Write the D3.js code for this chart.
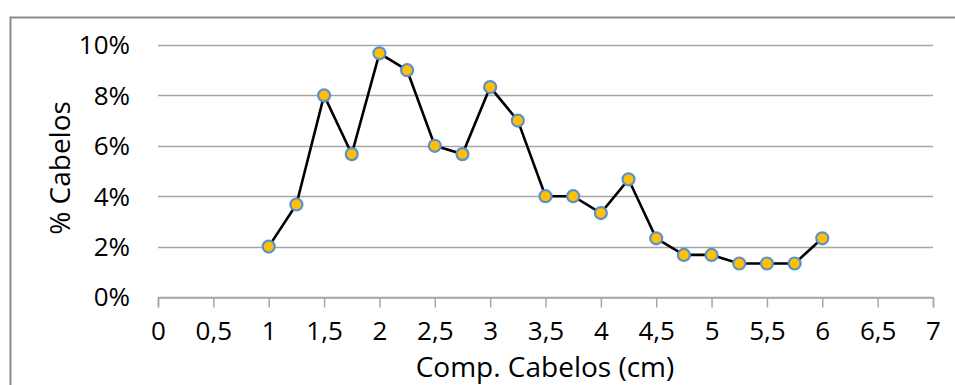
<!DOCTYPE html>
<html>
<head>
<meta charset="utf-8">
<script src="https://cdn.jsdelivr.net/npm/d3@7"></script>
<style>
  body { margin: 0; background: #fff; }
  text { font-family: "Open Sans", "Noto Sans", sans-serif; fill: #000; }
</style>
</head>
<body>
<svg id="chart" width="955" height="385"></svg>
<script>
// comprimento (cm) e % de cabelos
const comp = [1, 1.25, 1.5, 1.75, 2, 2.25, 2.5, 2.75, 3, 3.25, 3.5, 3.75, 4, 4.25, 4.5, 4.75, 5, 5.25, 5.5, 5.75, 6]
const pct = [2.0, 3.67, 8.0, 5.67, 9.67, 9.0, 6.0, 5.67, 8.33, 7.0, 4.0, 4.0, 3.33, 4.67, 2.33, 1.67, 1.67, 1.33, 1.33, 1.33, 2.33]
const xTicks = [0, 0.5, 1, 1.5, 2, 2.5, 3, 3.5, 4, 4.5, 5, 5.5, 6, 6.5, 7]
const yTicks = [0, 2, 4, 6, 8, 10]

const fs = 26
const svg = d3.select("#chart")

// moldura do gráfico
svg.append("rect")
  .attr("x", 10.5).attr("y", 17.5)
  .attr("width", 1000).attr("height", 400)
  .attr("fill", "none")
  .attr("stroke", "#8c8c8c")
  .attr("stroke-width", 2)

const x = d3.scaleLinear().domain([0, 7]).range([158, 933])
const y = d3.scaleLinear().domain([0, 10]).range([297, 45])

// linhas de grade
svg.append("g").selectAll("line")
  .data(yTicks)
  .join("line")
  .attr("x1", x(0)).attr("x2", x(7))
  .attr("y1", d => Math.round(y(d)) + 0.5)
  .attr("y2", d => Math.round(y(d)) + 0.5)
  .attr("stroke", "#a6a6a6")
  .attr("stroke-width", 1.5)

// eixo x
const xAxis = svg.append("g")
  .attr("transform", `translate(0,${Math.round(y(0)) + 0.5})`)
  .call(d3.axisBottom(x).tickValues(xTicks).tickSize(10).tickPadding(14)
    .tickFormat(d => String(d).replace(".", ",")))
xAxis.attr("font-size", null).attr("font-family", null)
xAxis.select(".domain").attr("stroke", "#a6a6a6").attr("stroke-width", 1.5)
xAxis.selectAll(".tick line").attr("stroke", "#a6a6a6").attr("stroke-width", 1.5)
xAxis.selectAll("text").attr("font-size", fs).attr("fill", "#000")

// eixo y (só rótulos)
svg.append("g").selectAll("text")
  .data(yTicks)
  .join("text")
  .attr("x", 130)
  .attr("y", d => y(d))
  .attr("dy", "0.36em")
  .attr("text-anchor", "end")
  .attr("font-size", fs)
  .text(d => d + "%")

// linha
const line = d3.line()
  .x((d, i) => x(comp[i]))
  .y(d => y(d))

svg.append("path")
  .datum(pct)
  .attr("d", line)
  .attr("fill", "none")
  .attr("stroke", "#000")
  .attr("stroke-width", 2.6)

// marcadores
svg.append("g").selectAll("circle")
  .data(pct)
  .join("circle")
  .attr("cx", (d, i) => x(comp[i]))
  .attr("cy", d => y(d))
  .attr("r", 6)
  .attr("fill", "#ffc000")
  .attr("stroke", "#5b8fd0")
  .attr("stroke-width", 2.2)

// títulos dos eixos
svg.append("text")
  .attr("x", 545).attr("y", 377)
  .attr("text-anchor", "middle")
  .attr("font-size", 28)
  .text("Comp. Cabelos (cm)")

svg.append("text")
  .attr("transform", "translate(70,168) rotate(-90)")
  .attr("text-anchor", "middle")
  .attr("font-size", 28)
  .text("% Cabelos")
</script>
</body>
</html>
